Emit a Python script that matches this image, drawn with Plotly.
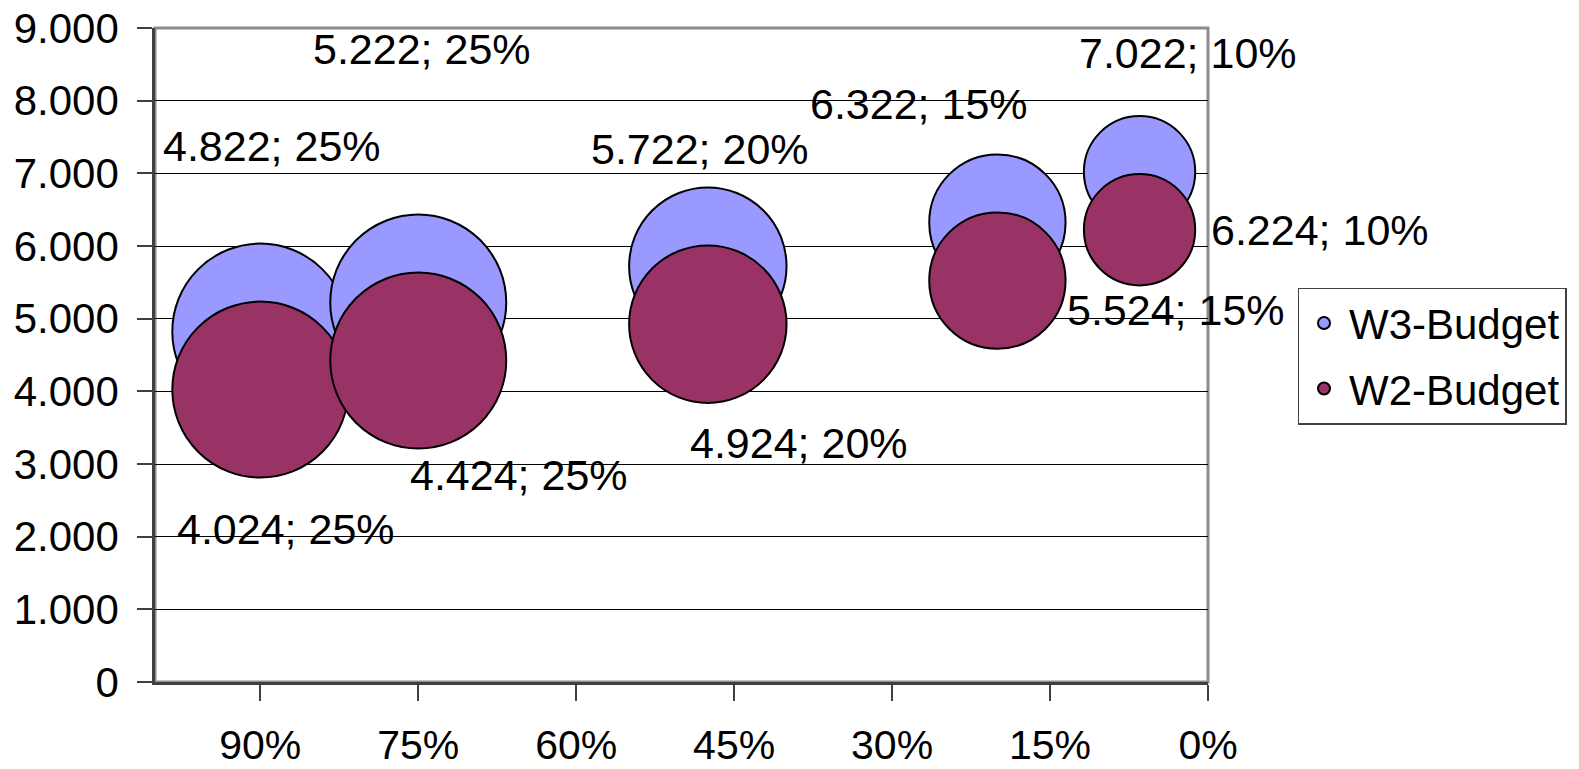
import plotly.graph_objects as go

# ---- data ----
x_pos = [90, 75, 47.5, 20, 6.5]          # x (%)
w3_values = [4822, 5222, 5722, 6322, 7022]
w2_values = [4024, 4424, 4924, 5524, 6224]
bubble_sizes = [25, 25, 20, 15, 10]       # bubble size (%)
x_ticks = [90, 75, 60, 45, 30, 15, 0]
x_tick_labels = [f"{v}%" for v in x_ticks]
y_ticks = [0, 1000, 2000, 3000, 4000, 5000, 6000, 7000, 8000, 9000]

# label offsets in pixels (layout only)
w3_label_shift = [(12, 186), (4, 254), (-8, 117), (-78, 119), (48, 119)]
w2_label_shift = [(26, -139), (101, -114), (91, -119), (179, -29), (180, 0)]

FONT = "Liberation Sans, Arial, sans-serif"
W3_COLOR = "#9999FF"
W2_COLOR = "#993366"

D_MAX = 176  # px diameter of the largest bubble
sizeref = 2.0 * max(bubble_sizes) / (D_MAX ** 2)


def lbl(v, s):
    return f"{v:,}".replace(",", ".") + f"; {s}%"


fig = go.Figure()
for name, vals, color in [("W3-Budget", w3_values, W3_COLOR),
                          ("W2-Budget", w2_values, W2_COLOR)]:
    fig.add_trace(go.Scatter(
        x=x_pos, y=vals, mode="markers", name=name, legendgroup=name,
        marker=dict(size=bubble_sizes, sizemode="area", sizeref=sizeref,
                    color=color, opacity=1,
                    line=dict(color="black", width=2)),
        cliponaxis=False,
    ))

annotations = []
for vals, shifts in [(w3_values, w3_label_shift), (w2_values, w2_label_shift)]:
    for xv, yv, s, (dx, dy) in zip(x_pos, vals, bubble_sizes, shifts):
        annotations.append(dict(
            x=xv, y=yv, xref="x", yref="y", text=lbl(yv, s),
            showarrow=False, xshift=dx, yshift=dy,
            xanchor="center", yanchor="middle",
            font=dict(family=FONT, size=43, color="black"),
        ))

# the page body adds an 8px offset, so the figure is 8px smaller
fig.update_layout(
    width=1571, height=761,
    margin=dict(l=147, r=370.5, t=20, b=86.5, pad=0),
    paper_bgcolor="white", plot_bgcolor="white",
    separators=",.",
    font=dict(family=FONT, size=42, color="black"),
    showlegend=True,
    legend=dict(
        x=1.085, y=0.603, xanchor="left", yanchor="top",
        bgcolor="white", bordercolor="#404040", borderwidth=1.5,
        font=dict(family=FONT, size=42, color="black"),
        itemsizing="constant", itemwidth=40, tracegroupgap=8,
    ),
    annotations=annotations,
    shapes=[dict(type="rect", xref="paper", yref="paper", x0=0, x1=1, y0=0, y1=1,
                 line=dict(color="#8c8c8c", width=3), layer="below")],
)

fig.update_xaxes(
    range=[100, 0], tickmode="array", tickvals=x_ticks, ticktext=x_tick_labels,
    automargin=False, ticklabeloverflow="allow",
    showgrid=False, zeroline=False,
    showline=True, linecolor="#404040", linewidth=2.5,
    ticks="outside", ticklen=16, tickwidth=1.5, tickcolor="#404040",
    ticklabelstandoff=9,
    tickfont=dict(family=FONT, size=41, color="black"),
)
fig.update_yaxes(
    range=[0, 9000], tickmode="array", tickvals=y_ticks, tickformat=",.0f",
    automargin=False, ticklabeloverflow="allow",
    showgrid=True, gridcolor="black", gridwidth=1, zeroline=False,
    showline=True, linecolor="#404040", linewidth=2.5,
    ticks="outside", ticklen=15, tickwidth=1.5, tickcolor="#404040",
    ticklabelstandoff=10,
    tickfont=dict(family=FONT, size=42, color="black"),
)

fig.write_html("out.html")
